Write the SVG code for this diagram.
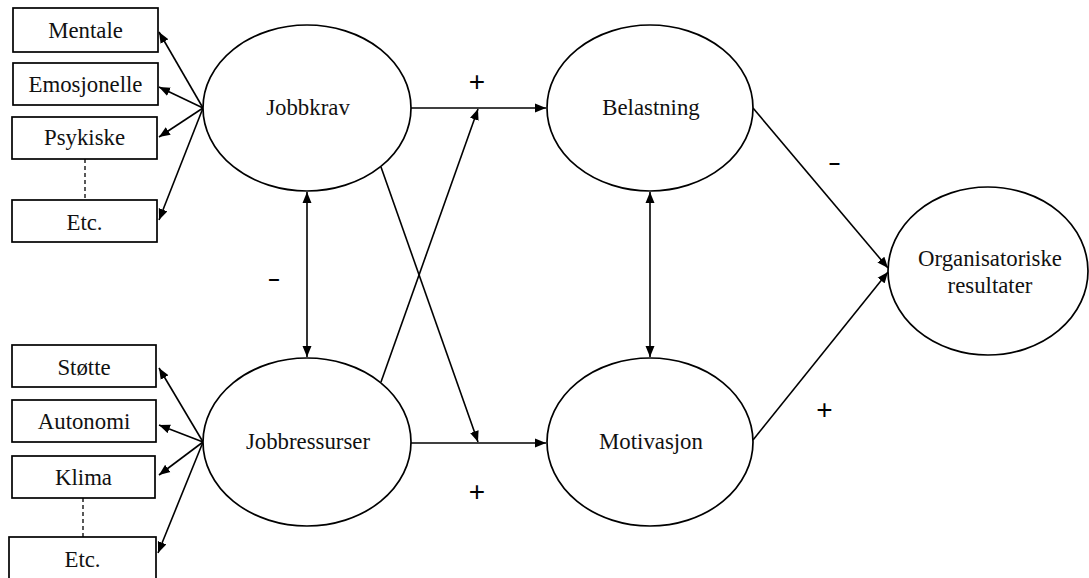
<svg xmlns="http://www.w3.org/2000/svg" width="1089" height="578" viewBox="0 0 1089 578">
<style>
.box{fill:#fff;stroke:#000;stroke-width:1.7}
.ell{fill:#fff;stroke:#000;stroke-width:1.7}
.t{font-family:"Liberation Serif","Times New Roman",serif;font-size:22.8px;fill:#111;text-anchor:middle}
.s{font-family:"Liberation Sans",Arial,sans-serif;fill:#000;text-anchor:middle}
.c{fill:none;stroke:#000;stroke-width:1.6}
.d{fill:none;stroke:#000;stroke-width:1.3;stroke-dasharray:4,3}
</style>
<defs>
<marker id="ah" markerUnits="userSpaceOnUse" markerWidth="12" markerHeight="10" refX="11" refY="5" orient="auto-start-reverse" viewBox="0 0 12 10">
<path d="M0,0.5 L11,5 L0,9.5 z" fill="#000"/>
</marker>
</defs>
<rect width="1089" height="578" fill="#fff"/>

<g id="connectors">
<line class="c" x1="203" y1="108" x2="159" y2="32" marker-end="url(#ah)"/>
<line class="c" x1="203" y1="108" x2="159" y2="87" marker-end="url(#ah)"/>
<line class="c" x1="203" y1="108" x2="159" y2="137" marker-end="url(#ah)"/>
<line class="c" x1="203" y1="108" x2="159" y2="220" marker-end="url(#ah)"/>
<line class="c" x1="203" y1="442" x2="159" y2="368" marker-end="url(#ah)"/>
<line class="c" x1="203" y1="442" x2="159" y2="425" marker-end="url(#ah)"/>
<line class="c" x1="203" y1="442" x2="159" y2="475" marker-end="url(#ah)"/>
<line class="c" x1="203" y1="442" x2="158" y2="553" marker-end="url(#ah)"/>
<line class="d" x1="85" y1="159" x2="85" y2="200"/>
<line class="d" x1="83" y1="498" x2="83" y2="537"/>
<line class="c" x1="307" y1="192" x2="307" y2="357" marker-start="url(#ah)" marker-end="url(#ah)"/>
<line class="c" x1="650" y1="192" x2="650" y2="357" marker-start="url(#ah)" marker-end="url(#ah)"/>
<line class="c" x1="411" y1="108" x2="546" y2="108" marker-end="url(#ah)"/>
<line class="c" x1="411" y1="443" x2="546" y2="443" marker-end="url(#ah)"/>
<line class="c" x1="381" y1="382" x2="478" y2="109" marker-end="url(#ah)"/>
<line class="c" x1="381" y1="167" x2="478" y2="442" marker-end="url(#ah)"/>
<line class="c" x1="753" y1="108" x2="888" y2="268" marker-end="url(#ah)"/>
<line class="c" x1="753" y1="440" x2="888" y2="272" marker-end="url(#ah)"/>
<text class="s" x="477" y="91" font-size="28">+</text>
<text class="s" x="477" y="501" font-size="28">+</text>
<text class="s" x="824.5" y="419" font-size="28">+</text>
<text class="s" x="274" y="285.5" font-size="24" textLength="13.5" lengthAdjust="spacingAndGlyphs">-</text>
<text class="s" x="834.5" y="169.5" font-size="24" textLength="13.5" lengthAdjust="spacingAndGlyphs">-</text>
</g>

<g id="mentale"><rect class="box" x="13" y="8" width="145" height="44"/><text class="t" x="85.5" y="38">Mentale</text></g>
<g id="emosjonelle"><rect class="box" x="13" y="63" width="145" height="42"/><text class="t" x="85.5" y="92">Emosjonelle</text></g>
<g id="psykiske"><rect class="box" x="12" y="117" width="145" height="42"/><text class="t" x="84.5" y="145">Psykiske</text></g>
<g id="etc1"><rect class="box" x="12" y="200" width="145" height="42"/><text class="t" x="84.5" y="230">Etc.</text></g>

<g id="stotte"><rect class="box" x="12" y="345" width="144" height="42"/><text class="t" x="84" y="375">Støtte</text></g>
<g id="autonomi"><rect class="box" x="12" y="400" width="144" height="42"/><text class="t" x="84" y="429">Autonomi</text></g>
<g id="klima"><rect class="box" x="12" y="456" width="143" height="42"/><text class="t" x="83.5" y="485">Klima</text></g>
<g id="etc2"><rect class="box" x="9" y="537" width="147" height="42"/><text class="t" x="82.5" y="567">Etc.</text></g>

<g id="jobbkrav"><ellipse class="ell" cx="307" cy="108" rx="104" ry="83"/><text class="t" x="308" y="115">Jobbkrav</text></g>
<g id="jobbressurser"><ellipse class="ell" cx="307" cy="442" rx="104" ry="84"/><text class="t" x="308" y="449">Jobbressurser</text></g>
<g id="belastning"><ellipse class="ell" cx="650" cy="108" rx="103" ry="83"/><text class="t" x="651" y="115">Belastning</text></g>
<g id="motivasjon"><ellipse class="ell" cx="650" cy="442" rx="103" ry="84"/><text class="t" x="651" y="449">Motivasjon</text></g>
<g id="organisatoriske"><ellipse class="ell" cx="988" cy="271" rx="100" ry="84"/><text class="t" x="990" y="266">Organisatoriske</text><text class="t" x="990" y="293">resultater</text></g>
</svg>
